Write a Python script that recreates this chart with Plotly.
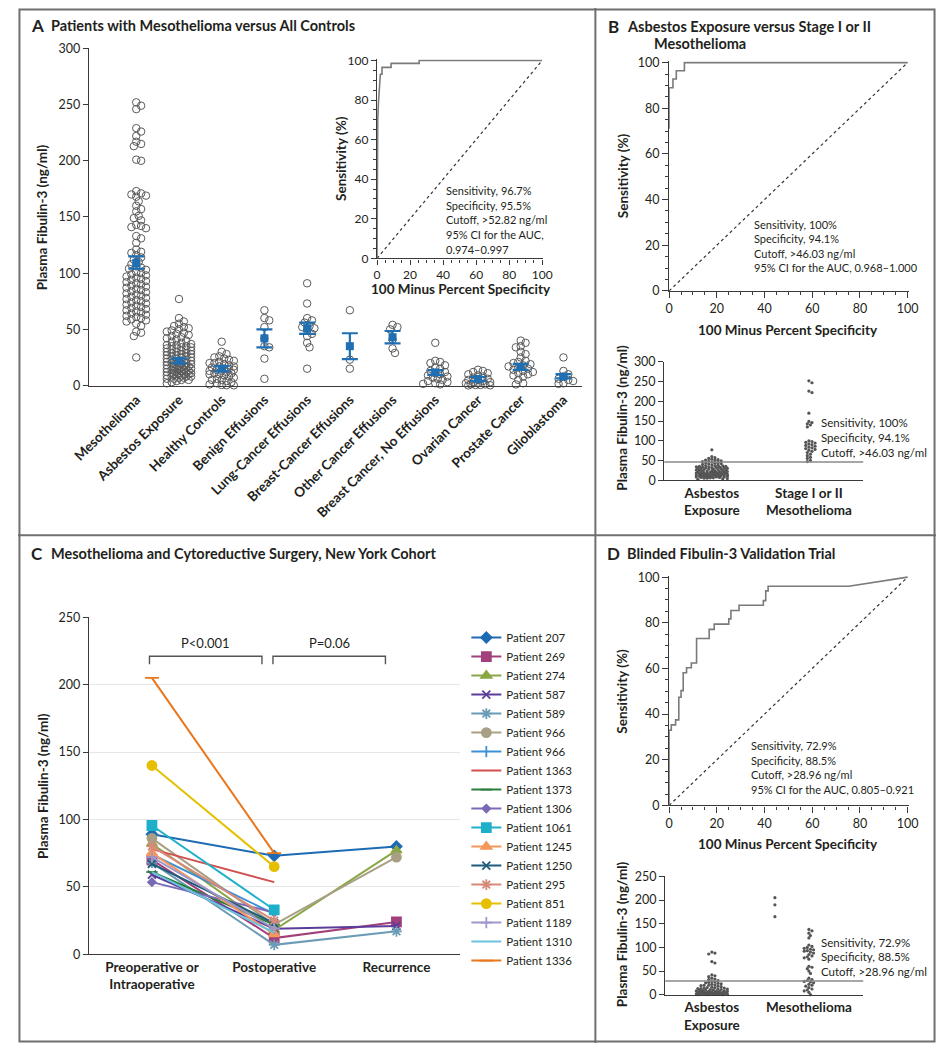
import math
import plotly.graph_objects as go

W, H = 946, 1050
def PX(x): return x / W
def PY(y): return 1 - y / H

FONT = "Lato"
TXT = "#231f20"
AX = "#3a3a3a"
BLUE = "#1f6fb2"
DOT = "#555555"

# ---------------- Panel A data ----------------
categories_a = ["Mesothelioma", "Asbestos Exposure", "Healthy Controls", "Benign Effusions",
                "Lung-Cancer Effusions", "Breast-Cancer Effusions", "Other Cancer Effusions",
                "Breast Cancer, No Effusions", "Ovarian Cancer", "Prostate Cancer", "Glioblastoma"]
mesothelioma = [252, 249, 246, 229, 226, 222, 217, 215, 213, 201, 200, 173, 171, 170, 169, 168,
                164, 160, 157, 155, 151, 149, 147, 143, 142, 141, 140, 133, 131, 127, 121, 119,
                118, 116, 114, 112, 110, 108, 106, 105, 104, 103, 101, 100, 99, 98, 97, 96, 95,
                94, 93, 92, 91, 90, 89, 88, 87, 86, 85, 84, 83, 82, 81, 80, 79, 78, 77, 76, 75,
                74, 73, 72, 71, 70, 69, 68, 67, 66, 65, 64, 63, 62, 61, 60, 59, 58, 57, 55, 53,
                48, 47, 44, 25]
asbestos = [77, 60, 57, 55, 53, 52, 51, 50, 49, 48, 47, 46, 45, 44, 43, 42, 41, 40, 39, 38, 37,
            36, 36, 35, 35, 34, 34, 33, 33, 32, 32, 31, 31, 30, 30, 29, 29, 28, 28, 27, 27, 26,
            26, 25, 25, 24, 24, 23, 23, 22, 22, 21, 21, 20, 20, 20, 19, 19, 19, 18, 18, 18, 17,
            17, 17, 16, 16, 16, 15, 15, 15, 14, 14, 14, 13, 13, 13, 12, 12, 12, 11, 11, 11, 10,
            10, 10, 9, 9, 9, 8, 8, 8, 7, 7, 6, 6, 5, 5, 4, 3, 2]
healthy = [39, 30, 28, 26, 25, 24, 23, 22, 21, 20, 20, 19, 18, 17, 17, 16, 15, 15, 14, 14, 13,
           13, 12, 11, 11, 10, 10, 9, 8, 7, 6, 5, 5, 4, 3, 2, 1, 0.5, 0.3, 0.2]
benign = [67, 60, 58, 52, 42, 35, 34, 24, 6]
lung = [91, 73, 60, 58, 56, 53, 52, 51, 49, 46, 44, 38, 34, 15]
breast_eff = [67, 23, 15]
other_eff = [54, 52, 50, 41, 33, 29]
breast_no = [38, 22, 21, 20, 18, 16, 15, 13, 12, 11, 10, 9, 8, 7, 6, 5, 4, 3, 2, 1.5, 1]
ovarian = [14, 13, 12, 11, 10, 9, 8, 7, 6, 5, 5, 4, 3, 3, 2, 2, 1, 1, 0.5, 0.5, 0.2, 0.1]
prostate = [40, 38, 35, 34, 30, 28, 25, 22, 21, 20, 19, 18, 17, 16, 15, 14, 13, 12, 11, 10, 9,
            8, 5, 2, 1]
glioblastoma = [25, 13, 10, 8, 6, 5, 4, 2, 1.5]
groups_a = [mesothelioma, asbestos, healthy, benign, lung, breast_eff, other_eff, breast_no,
            ovarian, prostate, glioblastoma]
group_means = [109, 22, 15, 42, 51, 35, 43, 11.7, 5.8, 16.6, 7.9]
group_err_hi = [6, 2.2, 2.2, 8, 5, 11.5, 5.5, 2, 1.8, 2.6, 2.3]
group_err_lo = [5, 2.2, 2.2, 8, 5, 11.5, 5.5, 2.2, 1.8, 2.6, 1.6]

# ROC inset A
fpr_a = [0, 0, 0.4, 0.8, 1.2, 1.6, 2.0, 3.0, 3.0, 8.5, 8.5, 25.5, 25.5, 100]
tpr_a = [0, 52, 70, 78, 84, 88, 93, 93, 96.5, 96.5, 98.5, 98.5, 100, 100]
stats_a = ["Sensitivity, 96.7%", "Specificity, 95.5%", "Cutoff, >52.82 ng/ml",
           "95% CI for the AUC,", "0.974\u20130.997"]

# ---------------- Panel B data ----------------
fpr_b = [0, 0, 1.6, 1.6, 3.0, 3.0, 6.4, 6.4, 100]
tpr_b = [71, 89, 89, 92.8, 92.8, 96.4, 96.4, 100, 100]
stats_b = ["Sensitivity, 100%", "Specificity, 94.1%", "Cutoff, >46.03 ng/ml",
           "95% CI for the AUC, 0.968\u20131.000"]
categories_b = ["Asbestos<br>Exposure", "Stage I or II<br>Mesothelioma"]
stage_early = [252, 247, 226, 222, 170, 149, 146, 143, 140, 135, 100, 98, 96, 94, 92, 90, 88,
               86, 84, 82, 80, 78, 76, 73, 70, 66, 62, 58, 55, 50, 47]
cutoff_b = 46.03
stats_b_short = ["Sensitivity, 100%", "Specificity, 94.1%", "Cutoff, >46.03 ng/ml"]

# ---------------- Panel C data ----------------
timepoints = ["Preoperative or<br>Intraoperative", "Postoperative", "Recurrence"]
patients = ["Patient 207", "Patient 269", "Patient 274", "Patient 587", "Patient 589",
            "Patient 966", "Patient 966", "Patient 1363", "Patient 1373", "Patient 1306",
            "Patient 1061", "Patient 1245", "Patient 1250", "Patient 295", "Patient 851",
            "Patient 1189", "Patient 1310", "Patient 1336"]
preop = [89, 70, 82, 59, 68, 86, 74, 78, 61, 53.5, 95.5, 75, 67, 80, 140, 72, 61, 205]
postop = [73, 12, 18, 19, 7, 22, 30, 53.5, 22, 31, 33, 15, 23, 25, 65, 19, 16, 75]
recurrence = [80, 24, 77, 21, 17, 72, None, None, None, None, None, None, None, None, None,
              None, None, None]
patient_colors = ["#1c6bb4", "#a2407c", "#8aa645", "#5b3c99", "#6b9bb5", "#a89f84", "#3d8fd6",
                  "#d24f4f", "#2a7f3e", "#7a6ab5", "#1fb0c9", "#f5965a", "#1f5d7a", "#d88a7a",
                  "#e6c000", "#a097c9", "#6cc3dd", "#e8771e"]
patient_symbols = ["diamond", "square", "triangle-up", "x-thin-open", "asterisk-open", "circle",
                   "line-ns-open", None, "line-ew-open", "diamond", "square", "triangle-up",
                   "x-thin-open", "asterisk-open", "circle", "cross-thin-open", None, "line-ew-open"]
patient_sizes = [8, 9, 9, 8, 9, 9, 8, 0, 8, 6, 9, 9, 8, 9, 9, 8, 0, 10]

# ---------------- Panel D data ----------------
fpr_d = [0, 0, 0.9, 0.9, 2.7, 2.7, 4.05, 4.05, 5.0, 5.0, 5.9, 5.9, 7.3, 7.3, 9.3, 9.3, 11.5,
         11.5, 16.8, 16.8, 18.9, 18.9, 25.0, 25.0, 25.9, 25.9, 29.3, 29.3, 39.5, 39.5, 40.5,
         40.5, 41.5, 41.5, 75.3, 100]
tpr_d = [0, 33, 33, 35.3, 35.3, 37.5, 37.5, 47.4, 47.4, 50.3, 50.3, 58.1, 58.1, 60.3, 60.3,
         62.4, 62.4, 73.1, 73.1, 77.1, 77.1, 79.4, 79.4, 81.7, 81.7, 85.4, 85.4, 87.7, 87.7,
         89.7, 89.7, 94, 94, 96, 96, 100]
stats_d = ["Sensitivity, 72.9%", "Specificity, 88.5%", "Cutoff, >28.96 ng/ml",
           "95% CI for the AUC, 0.805\u20130.921"]
categories_d = ["Asbestos<br>Exposure", "Mesothelioma"]
asbestos_d = [90, 88, 86, 70, 67, 42, 40, 38, 35, 33, 32, 30, 28, 27, 26, 25, 24, 23, 22, 21, 20,
              20, 19, 18, 17, 16, 15, 15, 14, 14, 13, 13, 12, 12, 11, 11, 10, 10, 9, 9, 8, 8, 8,
              7, 7, 7, 6, 6, 6, 5, 5, 5, 5, 4, 4, 4, 4, 3, 3, 3, 3, 2, 2, 2, 2, 1, 1, 1, 1, 0.5,
              0.5, 0.2, 0.1, 0]
meso_d = [138, 135, 130, 125, 120, 105, 102, 100, 98, 96, 95, 93, 92, 90, 88, 85,
          82, 80, 78, 75, 60, 58, 55, 50, 45, 35, 32, 30, 28, 27, 25, 22, 20, 18, 15, 12, 10, 8,
          5, 0]
meso_d_high = [205, 190, 165]          # three high values drawn left of the column
meso_d_high_pos = -0.35                # horizontal offset (category units) of that group
cutoff_d = 28.96
stats_d_short = ["Sensitivity, 72.9%", "Specificity, 88.5%", "Cutoff, >28.96 ng/ml"]


def swarm(values, ppu_y, ppu_x, diam, step, maxw):
    """Beeswarm offsets (in category units) computed from pixel scales."""
    cands = [0.0]
    k = 1
    while k * step <= maxw:
        cands += [k * step, -k * step]
        k += 1
    placed = []
    res = [0.0] * len(values)
    for i in sorted(range(len(values)), key=lambda j: -values[j]):
        y = values[i] * ppu_y
        best, bestd = 0.0, -1
        for c in cands:
            dmin = min((math.hypot(c - px, y - py) for px, py in placed), default=1e9)
            if dmin >= diam:
                best = c
                break
            if dmin > bestd:
                bestd, best = dmin, c
        placed.append((best, y))
        res[i] = best / ppu_x
    return res


fig = go.Figure()

# ---- Panel A scatter ----
ppx_a, ppy_a = 44.0, 342 / 300
for i, vals in enumerate(groups_a):
    offs = swarm(vals, ppy_a, ppx_a, 5.0, 2.5, 12.5)
    fig.add_trace(go.Scatter(x=[i + o for o in offs], y=vals, mode="markers",
                             marker=dict(symbol="circle-open", size=7.5, color="#5a5a5a",
                                         line=dict(width=1)),
                             showlegend=False, xaxis="x", yaxis="y", cliponaxis=False))
fig.add_trace(go.Scatter(x=list(range(len(categories_a))), y=group_means, mode="markers",
                         marker=dict(symbol="square", size=8, color=BLUE),
                         error_y=dict(type="data", symmetric=False, array=group_err_hi,
                                      arrayminus=group_err_lo, color=BLUE, thickness=2.2, width=8),
                         showlegend=False, xaxis="x", yaxis="y", cliponaxis=False))

# ---- ROC traces ----
def roc(fpr, tpr, xa, ya):
    fig.add_trace(go.Scatter(x=[0, 100], y=[0, 100], mode="lines",
                             line=dict(color="#333333", width=1.2, dash="dot"),
                             showlegend=False, xaxis=xa, yaxis=ya))
    fig.add_trace(go.Scatter(x=fpr, y=tpr, mode="lines", line=dict(color="#7a7a7a", width=1.6),
                             showlegend=False, xaxis=xa, yaxis=ya))

roc(fpr_a, tpr_a, "x2", "y2")
roc(fpr_b, tpr_b, "x3", "y3")
roc(fpr_d, tpr_d, "x6", "y6")

# ---- B scatter ----
for i, vals in enumerate([asbestos, stage_early]):
    offs = swarm(vals, 120 / 300, 100, 2.6, 1.6, 17)
    fig.add_trace(go.Scatter(x=[i + o for o in offs], y=vals, mode="markers",
                             marker=dict(size=3.2, color=DOT), showlegend=False,
                             xaxis="x4", yaxis="y4", cliponaxis=False))

# ---- D scatter ----
for i, vals in enumerate([asbestos_d, meso_d]):
    offs = swarm(vals, 120 / 250, 100, 2.6, 1.6, 17)
    fig.add_trace(go.Scatter(x=[i + o for o in offs], y=vals, mode="markers",
                             marker=dict(size=3.2, color=DOT), showlegend=False,
                             xaxis="x7", yaxis="y7", cliponaxis=False))
fig.add_trace(go.Scatter(x=[1 + meso_d_high_pos] * len(meso_d_high), y=meso_d_high,
                         mode="markers", marker=dict(size=3.2, color=DOT), showlegend=False,
                         xaxis="x7", yaxis="y7", cliponaxis=False))

# ---- C lines ----
for k, name in enumerate(patients):
    ys = [preop[k], postop[k], recurrence[k]]
    sym = patient_symbols[k]
    if sym is None:
        mode, mk = "lines", dict()
    else:
        mode = "lines+markers"
        mk = dict(symbol=sym, size=patient_sizes[k], color=patient_colors[k],
                  line=dict(width=1.8, color=patient_colors[k]))
    fig.add_trace(go.Scatter(x=[0, 1, 2], y=ys, mode=mode, name=name, marker=mk,
                             line=dict(color=patient_colors[k], width=2),
                             xaxis="x5", yaxis="y5", cliponaxis=False))


def base_axis(**kw):
    d = dict(showline=True, linecolor=AX, linewidth=1.3, ticks="outside", tickcolor=AX,
             ticklen=5, tickwidth=1.2, tickfont=dict(family=FONT, size=12.5, color=TXT),
             showgrid=False, zeroline=False)
    d.update(kw)
    return d


def xdom(a, b): return [PX(a), PX(b)]
def ydom(top, bottom): return [PY(bottom), PY(top)]

roc_minor = dict(dtick=5, ticks="outside", ticklen=3, tickcolor=AX, tickwidth=1)
layout_axes = {
    "xaxis": base_axis(domain=xdom(73, 581), anchor="y", range=[-1.11, 10.43],
                       tickvals=list(range(len(categories_a))),
                       ticktext=[f"<b>{c}</b>" for c in categories_a], tickangle=-45, ticks="",
                       tickfont=dict(family=FONT, size=13.5, color=TXT)),
    "yaxis": base_axis(domain=ydom(41, 383), anchor="x", range=[0, 300], dtick=50),
    "xaxis2": base_axis(domain=xdom(370, 541), anchor="y2", range=[0, 100.5], dtick=20,
                        minor=roc_minor, ticklen=5, tickfont=dict(family=FONT, size=12, color=TXT)),
    "yaxis2": base_axis(domain=ydom(52, 254), anchor="x2", range=[0, 100.6], dtick=20,
                        minor=roc_minor, ticklen=5, tickfont=dict(family=FONT, size=12, color=TXT)),
    "xaxis3": base_axis(domain=xdom(671, 918), anchor="y3", range=[0, 100.5], dtick=20,
                        minor=roc_minor, ticklen=6, tickfont=dict(family=FONT, size=12.5, color=TXT)),
    "yaxis3": base_axis(domain=ydom(54, 287), anchor="x3", range=[0, 100.6], dtick=20,
                        minor=roc_minor, ticklen=6, tickfont=dict(family=FONT, size=12.5, color=TXT)),
    "xaxis4": base_axis(domain=xdom(666, 871), anchor="y4", range=[-0.49, 1.56],
                        tickvals=[0, 1], ticktext=[f"<b>{c}</b>" for c in categories_b], ticks="",
                        tickfont=dict(family=FONT, size=13.5, color=TXT)),
    "yaxis4": base_axis(domain=ydom(359, 479), anchor="x4", range=[0, 300], dtick=50),
    "xaxis5": base_axis(domain=xdom(73, 455), anchor="y5", range=[-0.516, 2.516],
                        tickvals=[0, 1, 2], ticktext=[f"<b>{c}</b>" for c in timepoints], ticks="",
                        tickfont=dict(family=FONT, size=13.5, color=TXT)),
    "yaxis5": base_axis(domain=ydom(618, 960), anchor="x5", range=[0, 250], dtick=50,
                        showgrid=True, gridcolor="#e6e6e6", gridwidth=1),
    "xaxis6": base_axis(domain=xdom(671, 918), anchor="y6", range=[0, 100.5], dtick=20,
                        minor=roc_minor, ticklen=6, tickfont=dict(family=FONT, size=12.5, color=TXT)),
    "yaxis6": base_axis(domain=ydom(576, 809), anchor="x6", range=[0, 100.6], dtick=20,
                        minor=roc_minor, ticklen=6, tickfont=dict(family=FONT, size=12.5, color=TXT)),
    "xaxis7": base_axis(domain=xdom(667, 871), anchor="y7", range=[-0.48, 1.56],
                        tickvals=[0, 1], ticktext=[f"<b>{c}</b>" for c in categories_d], ticks="",
                        tickfont=dict(family=FONT, size=13.5, color=TXT)),
    "yaxis7": base_axis(domain=ydom(881, 1001), anchor="x7", range=[0, 250], dtick=50),
}

ann = []
def text(x, y, s, size=11, bold=False, angle=0, xanchor="left", color=TXT):
    ann.append(dict(x=PX(x), y=PY(y), xref="paper", yref="paper", showarrow=False,
                    text=f"<b>{s}</b>" if bold else s, textangle=angle, xanchor=xanchor,
                    yanchor="middle", font=dict(family=FONT, size=size, color=color)))

# Panel titles
text(11, 18, "A", 17, True)
text(32, 18, "Patients with Mesothelioma versus All Controls", 14.5, True)
text(606, 19, "B", 17, True)
text(625, 19, "Asbestos Exposure versus Stage I or II", 14.5, True)
text(653, 36, "Mesothelioma", 14.5, True)
text(11, 553, "C", 17, True)
text(32, 553, "Mesothelioma and Cytoreductive Surgery, New York Cohort", 14.5, True)
text(605, 553, "D", 17, True)
text(625, 553, "Blinded Fibulin-3 Validation Trial", 14.5, True)

# Axis titles
text(25, 212, "Plasma Fibulin-3 (ng/ml)", 13.5, True, -90, "center")
text(333, 153, "Sensitivity (%)", 13.5, True, -90, "center")
text(456, 285, "100 Minus Percent Specificity", 13.5, True, 0, "center")
text(623, 170, "Sensitivity (%)", 13.5, True, -90, "center")
text(794, 327, "100 Minus Percent Specificity", 13.5, True, 0, "center")
text(622, 416, "Plasma Fibulin-3 (ng/ml)", 13.5, True, -90, "center")
text(25, 789, "Plasma Fibulin-3 (ng/ml)", 13.5, True, -90, "center")
text(623, 693, "Sensitivity (%)", 13.5, True, -90, "center")
text(794, 848, "100 Minus Percent Specificity", 13.5, True, 0, "center")
text(622, 940, "Plasma Fibulin-3 (ng/ml)", 13.5, True, -90, "center")

# ROC stats
for j, s in enumerate(stats_a):
    text(439, 185 + 15 * j, s, 11)
for j, s in enumerate(stats_b):
    text(756, 220 + 14.3 * j, s, 11)
for j, s in enumerate(stats_d):
    text(753, 748 + 15 * j, s, 11)
for j, s in enumerate(stats_b_short):
    text(825, 420 + 15.5 * j, s, 11.5)
for j, s in enumerate(stats_d_short):
    text(825, 948 + 14.5 * j, s, 11.5)

# P values (C)
ann.append(dict(x=0.44, y=231, xref="x5", yref="y5", text="P<0.001", showarrow=False,
                font=dict(family=FONT, size=13, color=TXT)))
ann.append(dict(x=1.45, y=231, xref="x5", yref="y5", text="P=0.06", showarrow=False,
                font=dict(family=FONT, size=13, color=TXT)))

shapes = [
    dict(type="rect", xref="paper", yref="paper", x0=PX(1.5), x1=PX(944.5), y0=PY(1048.5),
         y1=PY(1.5), line=dict(color="#6f6f6f", width=2)),
    dict(type="line", xref="paper", yref="paper", x0=0, x1=1, y0=PY(535), y1=PY(535),
         line=dict(color="#6f6f6f", width=2)),
    dict(type="line", xref="paper", yref="paper", x0=PX(595), x1=PX(595), y0=0, y1=1,
         line=dict(color="#6f6f6f", width=2)),
    dict(type="path", xref="x5", yref="y5", path="M -0.02,215 L -0.02,221 L 0.9,221 L 0.9,215",
         line=dict(color="#555555", width=1.4)),
    dict(type="path", xref="x5", yref="y5", path="M 0.99,215 L 0.99,221 L 1.91,221 L 1.91,215",
         line=dict(color="#555555", width=1.4)),
    dict(type="line", xref="x4 domain", yref="y4", x0=0, x1=1, y0=cutoff_b, y1=cutoff_b,
         line=dict(color="#8a8a8a", width=1.5)),
    dict(type="line", xref="x7 domain", yref="y7", x0=0, x1=1, y0=cutoff_d, y1=cutoff_d,
         line=dict(color="#8a8a8a", width=1.5)),
]

fig.update_layout(
    width=W, height=H, margin=dict(l=0, r=0, t=0, b=0),
    paper_bgcolor="white", plot_bgcolor="rgba(0,0,0,0)",
    font=dict(family=FONT, color=TXT),
    annotations=ann, shapes=shapes,
    legend=dict(x=PX(462), y=PY(624), xanchor="left", yanchor="top",
                font=dict(family=FONT, size=11.5, color=TXT), itemwidth=30,
                tracegroupgap=0, bgcolor="rgba(0,0,0,0)"),
    **layout_axes,
)

fig.write_html("out.html", config={"displayModeBar": False},
               post_script="document.body.style.margin='0px';document.body.style.overflow='hidden';")
